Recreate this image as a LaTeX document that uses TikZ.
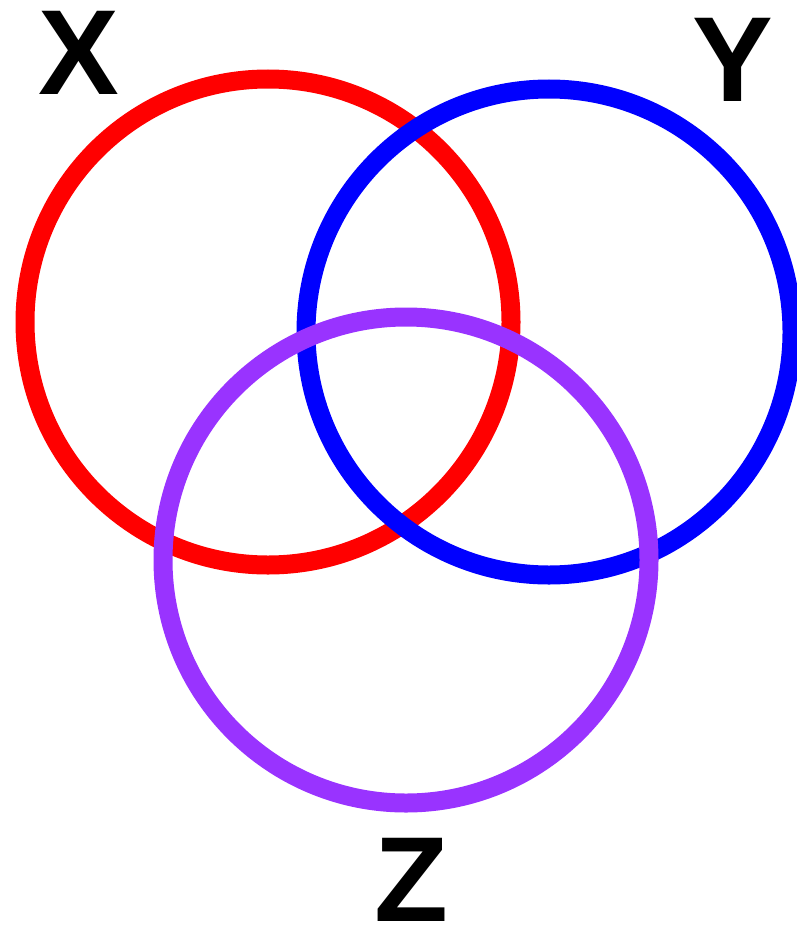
\documentclass[tikz,border=0pt]{standalone}
\usepackage{fontspec}
\setmainfont{Liberation Sans}
\definecolor{vpurple}{HTML}{9933FF}
\begin{document}
\begin{tikzpicture}[x=1pt,y=-1pt,
  ring/.style={circle, draw, line width=19pt, minimum size=486pt, inner sep=0pt},
  lbl/.style={font=\bfseries\fontsize{121}{121}\selectfont, inner sep=0pt}]
\useasboundingbox (0,0) rectangle (796,931);
\node[ring, draw=red] (cx) at (268,322) {};
\node[ring, draw=blue] (cy) at (549,332) {};
\node[ring, draw=vpurple] (cz) at (406,560) {};
\node[lbl] (lx) at (79,53) {X};
\node[lbl] (ly) at (733,60) {Y};
\node[lbl] (lz) at (411,880) {Z};
\end{tikzpicture}
\end{document}
